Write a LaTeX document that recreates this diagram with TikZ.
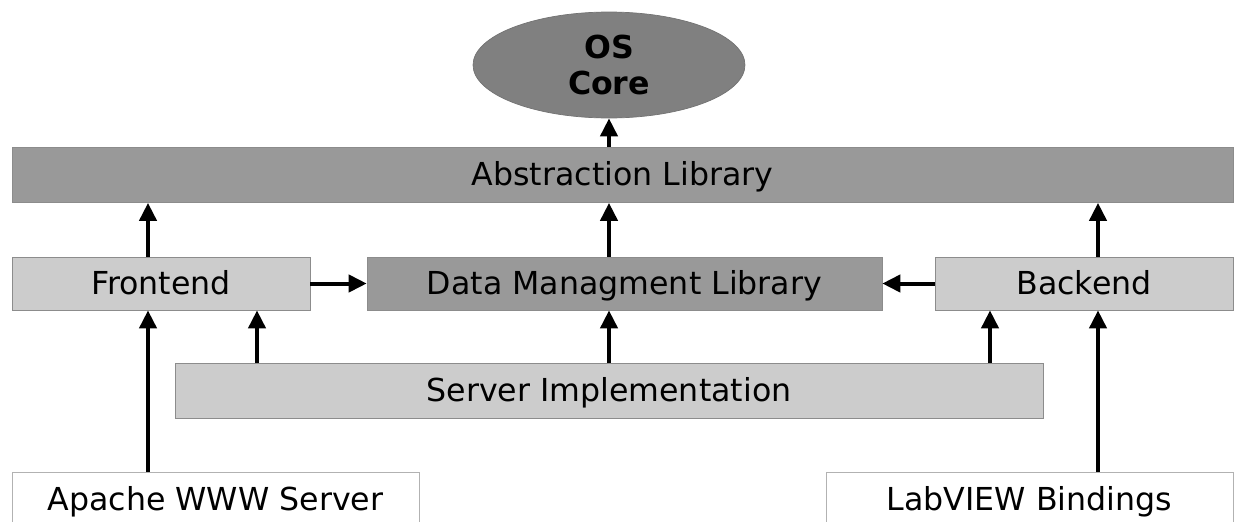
\documentclass[tikz,border=0pt]{standalone}
\usepackage{fontspec}
\setmainfont{DejaVu Sans}
\usetikzlibrary{positioning,shapes.geometric,arrows.meta}
\tikzset{
  lb/.style={rectangle, minimum height=1.06cm, text centered, text height=13pt, text depth=0.5pt, draw=black!45, fill=black!20},
  db/.style={rectangle, minimum height=1.1cm, text centered, text height=13pt, text depth=0.5pt, draw=black!45, fill=black!40},
  wb/.style={rectangle, minimum height=1.1cm, text centered, text height=13pt, text depth=0.5pt, draw=black!30, fill=white},
  os/.style={ellipse, minimum width=5.44cm, minimum height=2.12cm, text centered, draw=black!55, fill=black!50, font=\fontsize{18}{21}\selectfont\bfseries, align=center},
  arr/.style={line width=0.08cm, -{Triangle[length=0.36cm,width=0.34cm]}}
}

\begin{document}
\begin{tikzpicture}[x=0.02cm,y=-0.02cm,font=\fontsize{18}{21}\selectfont]
	\useasboundingbox (0,0) rectangle (1237,521);
	\node[os] (core) at (609,65) {OS\\Core};
	\node[db,minimum width=24.42cm] (abs) at (622.5,175) {Abstraction Library};
	\node[lb,minimum width=5.96cm] (fe) at (161,283.5) {Frontend};
	\node[db,minimum width=10.3cm,minimum height=1.06cm] (dml) at (624.5,283.5) {Data Managment Library};
	\node[lb,minimum width=5.96cm] (be) at (1084,283.5) {Backend};
	\node[lb,minimum width=17.36cm,minimum height=1.1cm] (srv) at (609,391) {Server Implementation};
	\node[wb,minimum width=8.14cm] (ap) at (215.5,500) {Apache WWW Server};
	\node[wb,minimum width=8.14cm] (lv) at (1029.5,500) {LabVIEW Bindings};
	% x positions of the vertical arrows
	\coordinate (xa) at (148,0);
	\coordinate (xb) at (257,0);
	\coordinate (xc) at (990,0);
	\coordinate (xd) at (1098,0);
	\draw[arr] (abs.north -| core) -- (core.south);
	\draw[arr] (fe.north -| xa) -- (abs.south -| xa);
	\draw[arr] (dml.north -| core) -- (abs.south -| core);
	\draw[arr] (be.north -| xd) -- (abs.south -| xd);
	\draw[arr] (fe.east) -- (dml.west);
	\draw[arr] (be.west) -- (dml.east);
	\draw[arr] (ap.north -| xa) -- (fe.south -| xa);
	\draw[arr] (srv.north -| xb) -- (fe.south -| xb);
	\draw[arr] (srv.north -| core) -- (dml.south -| core);
	\draw[arr] (srv.north -| xc) -- (be.south -| xc);
	\draw[arr] (lv.north -| xd) -- (be.south -| xd);
\end{tikzpicture}
\end{document}
